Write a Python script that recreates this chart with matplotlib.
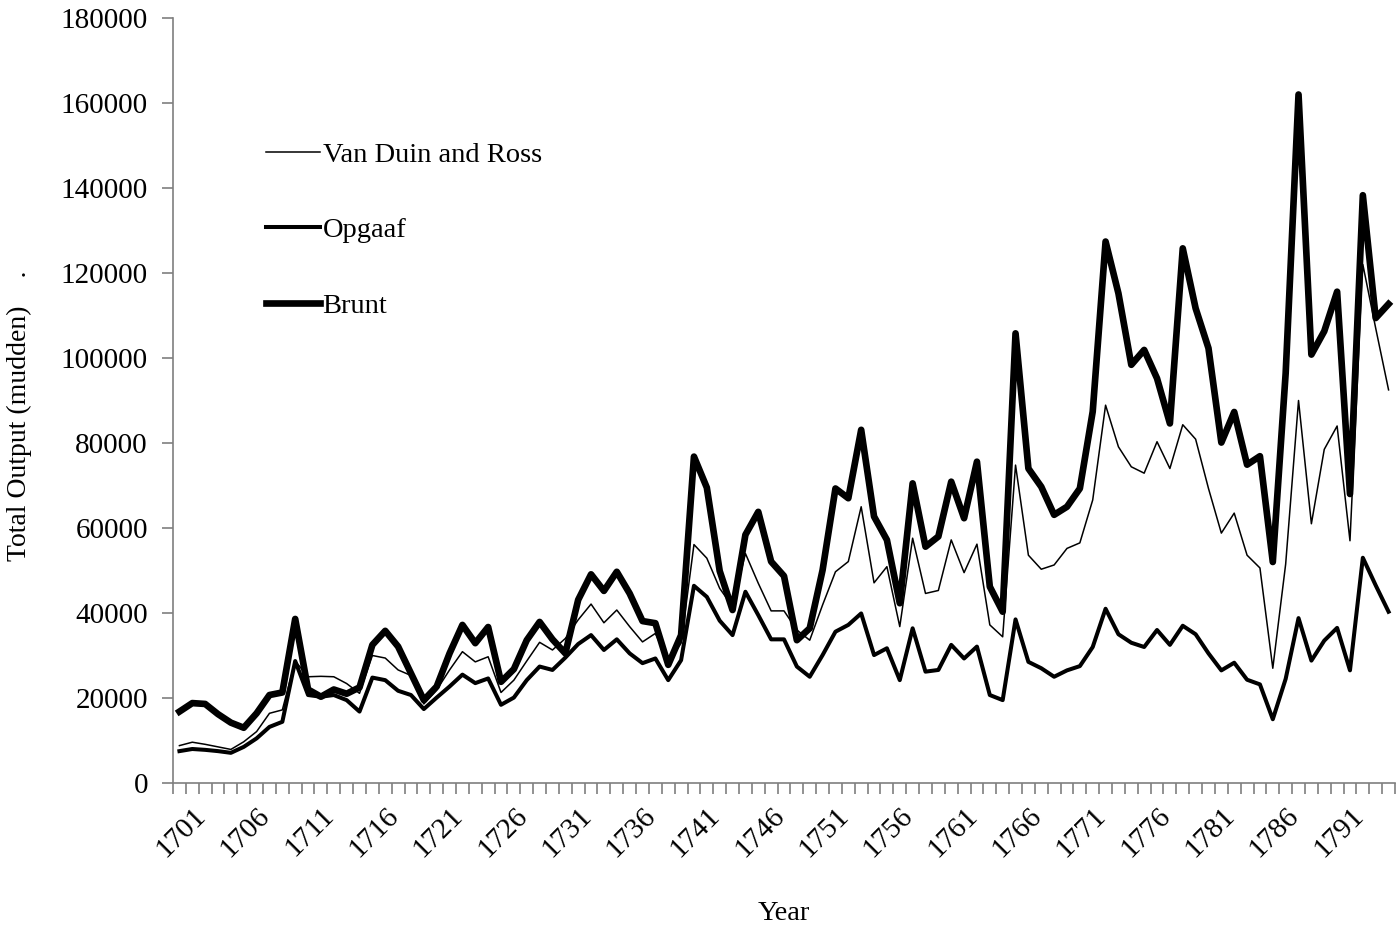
import matplotlib
matplotlib.use("Agg")
import matplotlib.pyplot as plt
from matplotlib.ticker import FixedLocator, NullFormatter
import matplotlib.transforms as mtransforms

plt.rcParams['font.family'] = ['Liberation Serif', 'DejaVu Serif']

years = list(range(1701, 1796))

# thousand mudden
van_duin_ross = [
    8.8, 9.6, 9.1, 8.5, 7.9, 9.7, 12.1, 16.4, 17.2, 28.7,
    25.0, 25.1, 25.0, 23.4, 21.1, 30.0, 29.4, 26.6, 25.3, 18.6,
    21.9, 26.6, 30.9, 28.5, 29.7, 21.3, 24.2, 28.7, 33.1, 31.3,
    34.0, 38.4, 42.1, 37.7, 40.7, 36.8, 33.2, 35.2, 28.5, 32.9,
    56.1, 52.9, 45.8, 41.5, 54.0, 47.0, 40.5, 40.5, 36.0, 33.6,
    41.9, 49.7, 52.1, 65.0, 47.1, 50.9, 36.8, 57.6, 44.6, 45.3,
    57.2, 49.5, 56.2, 37.2, 34.4, 74.8, 53.6, 50.3, 51.3, 55.2,
    56.5, 66.6, 88.9, 79.1, 74.4, 72.9, 80.3, 74.0, 84.3, 80.9,
    69.3, 58.8, 63.5, 53.6, 50.6, 27.0, 51.5, 90.0, 61.0, 78.5,
    84.0, 57.0, 122.0, 107.0, 92.5,
]
opgaaf = [
    7.5, 8.0, 7.8, 7.5, 7.1, 8.5, 10.5, 13.2, 14.4, 28.7,
    20.7, 20.3, 20.7, 19.5, 16.8, 24.8, 24.2, 21.7, 20.7, 17.4,
    20.1, 22.7, 25.5, 23.5, 24.6, 18.4, 20.1, 24.2, 27.4, 26.6,
    29.5, 32.7, 34.8, 31.3, 33.8, 30.5, 28.2, 29.3, 24.2, 28.9,
    46.4, 43.8, 38.2, 34.8, 45.0, 39.5, 33.8, 33.8, 27.4, 25.0,
    30.1, 35.6, 37.2, 39.9, 30.1, 31.7, 24.2, 36.4, 26.2, 26.6,
    32.5, 29.3, 32.1, 20.7, 19.5, 38.5, 28.5, 27.0, 25.0, 26.5,
    27.5, 32.0, 41.0, 35.0, 33.0, 32.0, 36.0, 32.5, 37.0, 35.0,
    30.5, 26.5, 28.3, 24.3, 23.2, 15.0, 24.5, 38.8, 28.8, 33.5,
    36.5, 26.5, 53.0, 46.5, 40.3,
]
brunt = [
    16.8, 18.8, 18.6, 16.2, 14.2, 13.0, 16.4, 20.7, 21.3, 38.6,
    22.0, 20.3, 22.0, 21.0, 22.5, 32.5, 35.8, 32.1, 25.8, 19.5,
    22.7, 30.5, 37.2, 32.9, 36.7, 23.8, 26.8, 33.6, 37.9, 33.8,
    30.5, 43.1, 49.1, 45.2, 49.7, 44.6, 38.1, 37.6, 27.8, 34.8,
    76.8, 69.5, 49.9, 40.7, 58.4, 63.8, 52.1, 48.7, 33.6, 36.4,
    50.1, 69.3, 67.0, 83.1, 62.7, 57.2, 42.3, 70.5, 55.6, 58.0,
    70.9, 62.3, 75.6, 46.2, 40.3, 105.8, 74.0, 69.7, 63.1, 65.0,
    69.3, 87.4, 127.4, 115.2, 98.4, 101.9, 95.2, 84.6, 125.8, 111.7,
    102.3, 80.1, 87.3, 74.9, 76.9, 52.0, 96.4, 162.0, 100.8, 106.3,
    115.6, 68.0, 138.3, 109.4, 112.7,
]

n = len(years)
x = list(range(n))
to_mudden = lambda vals: [v * 1000 for v in vals]

fig = plt.figure(figsize=(13.98, 9.26), dpi=100)
ax = fig.add_axes([173 / 1398, 1 - 783 / 926, 1222 / 1398, 765 / 926])

ax.plot(x, to_mudden(van_duin_ross), color='black', lw=1.1, label='Van Duin and Ross')
ax.plot(x, to_mudden(opgaaf), color='black', lw=2.9, label='Opgaaf')
ax.plot(x, to_mudden(brunt), color='black', lw=4.8, label='Brunt')

ax.set_xlim(-0.5, n - 0.5)
ax.set_ylim(0, 180000)
ax.set_yticks(range(0, 180001, 20000))
ax.set_yticklabels([str(v) for v in range(0, 180001, 20000)])

# category boundaries carry the tick marks, labels every fifth year
ax.xaxis.set_major_locator(FixedLocator([k - 0.5 for k in range(n + 1)]))
ax.xaxis.set_major_formatter(NullFormatter())
ax.xaxis.set_minor_locator(FixedLocator(list(range(0, n, 5))))
ax.set_xticklabels([str(years[i]) for i in range(0, n, 5)], minor=True)
ax.tick_params(axis='x', which='minor', length=0, pad=14, labelsize=21)
offset = mtransforms.ScaledTranslation(13 / 100, 0, fig.dpi_scale_trans)
for lbl in ax.xaxis.get_minorticklabels():
    lbl.set_rotation(45)
    lbl.set_ha('right')
    lbl.set_va('top')
    lbl.set_rotation_mode('anchor')
    lbl.set_transform(lbl.get_transform() + offset)

axis_grey = '#7f7f7f'
ax.tick_params(axis='x', which='major', length=8, width=1.2, color=axis_grey)
ax.tick_params(axis='y', length=8, width=1.2, color=axis_grey, labelsize=21, pad=10)
for side in ('top', 'right'):
    ax.spines[side].set_visible(False)
for side in ('left', 'bottom'):
    ax.spines[side].set_color(axis_grey)
    ax.spines[side].set_linewidth(1.2)

ax.set_xlabel('Year', fontsize=20.5, labelpad=28)
ax.set_ylabel('Total Output (mudden)    .', fontsize=20)
ax.yaxis.set_label_coords((32 - 173) / 1222, 0.48)

ax.legend(loc='upper left', bbox_to_anchor=(240 / 1398, 1 - 116 / 926),
          bbox_transform=fig.transFigure, frameon=False, fontsize=20.5,
          handlelength=1.9, handletextpad=0.1, labelspacing=1.75)

fig.savefig('out.png', dpi=100)
